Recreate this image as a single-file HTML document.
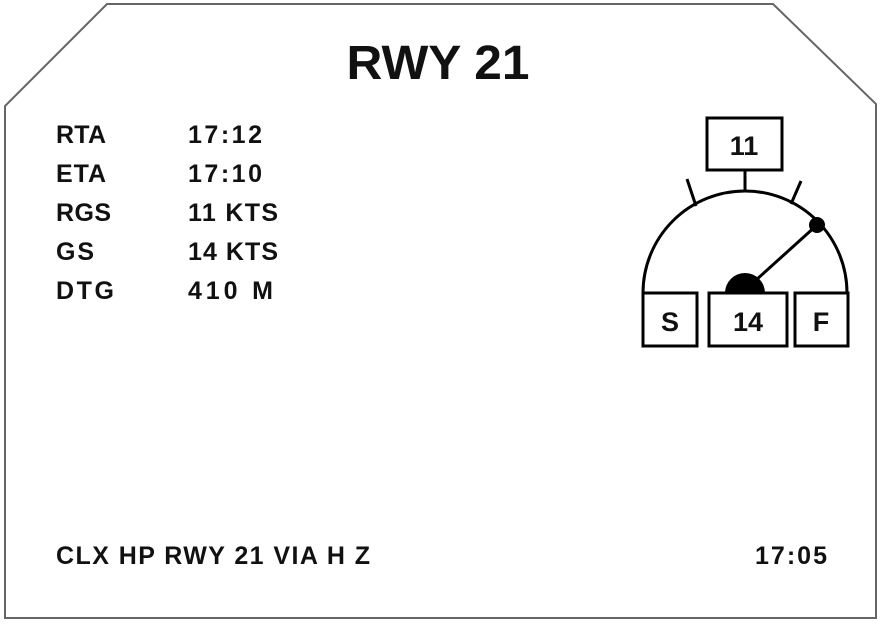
<!DOCTYPE html>
<html><head><style>
body{margin:0;background:#fff;}
svg text{font-family:"Liberation Sans",sans-serif;font-weight:bold;fill:#111;}
</style></head><body>
<svg width="881" height="624" viewBox="0 0 881 624" xmlns="http://www.w3.org/2000/svg">
<path d="M5,618 L5,106 L107,4 L773,4 L876,104 L876,618 Z" fill="#fff" stroke="#666" stroke-width="2"/>
<text x="438" y="79" font-size="48" text-anchor="middle" textLength="183" lengthAdjust="spacingAndGlyphs">RWY 21</text>
<g font-size="25" lengthAdjust="spacingAndGlyphs">
<text x="56" y="143" textLength="50">RTA</text><text x="188" y="143" textLength="74">17:12</text>
<text x="56" y="182" textLength="50">ETA</text><text x="188" y="182" textLength="74">17:10</text>
<text x="56" y="221" textLength="55">RGS</text><text x="188" y="221" textLength="90">11 KTS</text>
<text x="56" y="260" textLength="38">GS</text><text x="188" y="260" textLength="90">14 KTS</text>
<text x="56" y="299" textLength="58">DTG</text><text x="188" y="299" textLength="85">410 M</text>
<text x="56" y="564" textLength="314">CLX HP RWY 21 VIA H Z</text>
<text x="755" y="564" textLength="72">17:05</text>
</g>
<g stroke="#000" stroke-width="3" fill="none">
<path d="M643,293 A102,102 0 0 1 847,293"/>
<line x1="745" y1="170" x2="745" y2="191"/>
<line x1="687" y1="179" x2="696" y2="206"/>
<line x1="801" y1="181" x2="791" y2="204"/>
<line x1="745" y1="290" x2="817" y2="225"/>
<rect x="707" y="118" width="75" height="52" fill="#fff"/>
<rect x="643" y="293" width="54" height="53" fill="#fff"/>
<rect x="709" y="293" width="78" height="53" fill="#fff"/>
<rect x="795" y="293" width="53" height="53" fill="#fff"/>
</g>
<path d="M725,293 A20,20 0 0 1 765,293 Z" fill="#000"/>
<circle cx="817" cy="225" r="8" fill="#000"/>
<g font-size="27" text-anchor="middle">
<text x="744" y="155">11</text>
<text x="670" y="331">S</text>
<text x="748" y="331">14</text>
<text x="821" y="331">F</text>
</g>
</svg>
</body></html>
